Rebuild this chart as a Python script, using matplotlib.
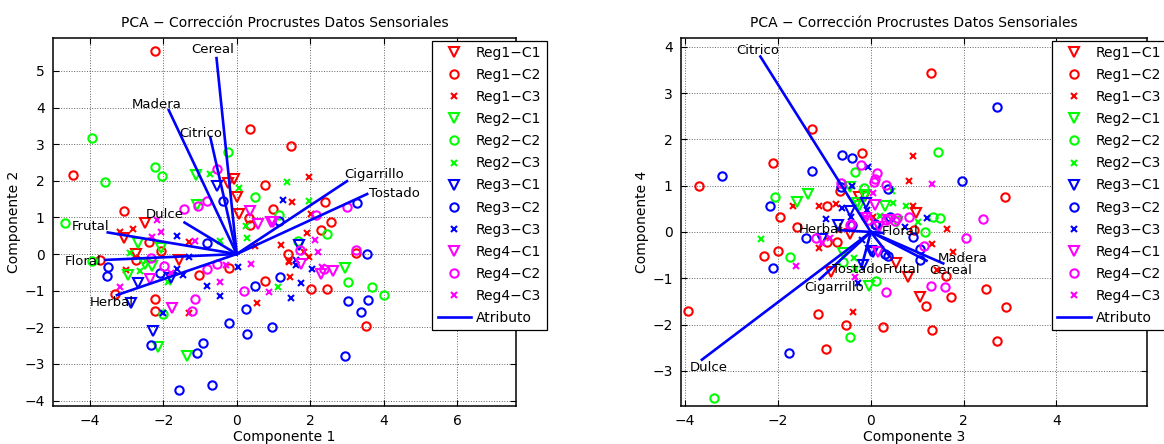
"""
PCA - correccion Procrustes, componentes 1-2 y 3-4
"""
import matplotlib
matplotlib.use('Agg')
import matplotlib.pyplot as plt

plt.rcParams['font.family'] = ['DejaVu Sans']
plt.rcParams['font.size'] = 10

series_names = ['Reg1\u2212C1', 'Reg1\u2212C2', 'Reg1\u2212C3',
                'Reg2\u2212C1', 'Reg2\u2212C2', 'Reg2\u2212C3',
                'Reg3\u2212C1', 'Reg3\u2212C2', 'Reg3\u2212C3',
                'Reg4\u2212C1', 'Reg4\u2212C2', 'Reg4\u2212C3']
attr_names = ['Cereal', 'Madera', 'Citrico', 'Dulce', 'Frutal', 'Floral', 'Herbal', 'Cigarrillo', 'Tostado']

# ---- componentes 1 y 2 ----
r1c1_pc1 = [-0.07, -0.23, 0.0, 0.05, -2.49, -3.08, -2.73, -1.58]
r1c1_pc2 = [2.04, 1.93, 1.57, 1.09, 0.86, 0.45, -0.01, -0.16]
r1c2_pc1 = [-2.23, -4.46, 0.36, 1.47, 0.76, 0.99, 0.34, 0.35, -2.4, -2.07, -2.73, -3.73, -0.21, -1.04,
            -3.3, -2.22, -2.23, 0.77, 1.4, 2.39, 2.56, 2.29, 3.24, 2.01, 2.45, 3.51, -3.06]
r1c2_pc2 = [5.55, 2.16, 3.42, 2.96, 1.89, 1.22, 0.99, 0.79, 0.32, 0.08, -0.15, -0.15, -0.37, -0.56,
            -1.1, -1.23, -1.55, -0.74, -0.01, 1.43, 0.87, 0.67, 0.04, -0.96, -0.96, -1.97, 1.18]
r1c3_pc1 = [-3.19, -2.83, -1.31, -2.46, -3.02, -1.31, 0.55, 1.45, 1.41, 1.2, 1.5, 1.97, 2.03, 1.92, 1.83, 1.97, 1.43, 0.5]
r1c3_pc2 = [0.59, 0.68, 0.34, -0.18, -0.44, -1.62, -1.34, -0.63, -0.21, 0.26, 1.41, 2.11, 1.09, 0.57, 0.05, -0.09, -0.19, 0.23]
r2c1_pc1 = [-1.1, -1.07, -2.69, -2.07, -2.3, -2.49, -2.96, -2.14, -1.34, 2.94]
r2c1_pc2 = [2.15, 1.34, 0.31, 0.17, -0.33, -0.28, -0.58, -2.53, -2.78, -0.39]
r2c2_pc1 = [-3.95, -3.59, -2.23, -2.03, -0.25, 0.51, 1.15, -4.66, -3.93, -2.0, 1.67, 2.47, 3.02, 3.67, 4.02]
r2c2_pc2 = [3.18, 1.96, 2.39, 2.14, 2.79, 1.56, 1.06, 0.86, -0.18, -1.65, 0.36, 0.54, -0.76, -0.89, -1.12]
r2c3_pc1 = [-0.74, 0.05, 1.36, 1.97, -0.46, 0.25, 0.28, -2.9, -2.62, -1.87, 1.11, -2.46]
r2c3_pc2 = [2.19, 1.81, 1.96, 1.44, 0.36, 0.77, 0.43, 0.04, -0.46, -0.77, -0.91, -0.2]
r3c1_pc1 = [-0.54, -2.69, -1.78, -2.87, -2.28, 1.7]
r3c1_pc2 = [1.86, -0.78, -0.66, -1.33, -2.1, 0.25]
r3c2_pc1 = [-0.38, 1.15, -0.81, -3.51, -3.53, -2.1, 0.24, -0.22, -2.32, -0.93, -1.09, -1.56, -0.67, 0.29,
            0.95, 0.49, 1.17, 3.28, 3.54, 3.04, 3.56, 3.38, 2.95]
r3c2_pc2 = [1.45, 0.91, 0.29, -0.35, -0.6, -0.53, -1.51, -1.89, -2.49, -2.44, -2.69, -3.71, -3.58, -2.19,
            -1.98, -0.87, -0.62, 1.39, -0.01, -1.28, -1.26, -1.58, -2.79]
r3c3_pc1 = [1.25, -1.63, -1.31, -1.63, -1.46, 0.04, -0.81, -0.46, 1.47, 1.61, 1.61, 2.05, 1.74, -2.0]
r3c3_pc2 = [1.48, 0.5, -0.09, -0.41, -0.57, -0.36, -0.86, -1.14, -1.19, -0.16, -0.3, -0.42, -0.78, -1.6]
r4c1_pc1 = [0.37, 0.59, 0.92, 0.98, -2.35, -1.75, 1.74, 2.28, 2.61]
r4c1_pc2 = [1.17, 0.81, 0.88, 0.87, -0.69, -1.47, -0.28, -0.55, -0.46]
r4c2_pc1 = [-0.54, -0.8, -1.06, -1.44, -2.33, -1.98, -0.81, -0.53, 0.2, -1.13, -1.21, 3.0, 2.17, 1.73, 2.37, 3.24]
r4c2_pc2 = [2.33, 1.45, 1.32, 1.24, -0.1, -0.33, -0.42, -0.28, -1.0, -1.24, -1.56, 1.28, 1.07, 0.11, -0.41, 0.11]
r4c3_pc1 = [-2.16, -2.07, -2.31, -1.14, -3.17, -1.8, -0.3, -0.46, 0.38, 0.88, 2.13, 2.2, 2.31]
r4c3_pc2 = [0.93, 0.59, 0.46, 0.36, -0.89, -0.51, -0.3, -0.77, -0.28, -1.03, 0.37, 0.05, -0.35]

attr_pc1 = [-0.55, -1.85, -0.72, -1.42, -3.51, -3.57, -3.26, 3.0, 3.55]
attr_pc2 = [5.35, 3.93, 3.19, 0.86, 0.59, -0.16, -1.12, 1.99, 1.64]

# ---- componentes 3 y 4 ----
r1c1_pc3 = [-0.26, -0.13, -0.45, 0.54, 0.8, 1.06, 0.97, -0.85]
r1c1_pc4 = [0.76, 0.78, -0.05, -0.68, -0.97, -1.4, 0.42, -0.86]
r1c2_pc3 = [-1.26, -2.11, -3.71, -0.2, -0.67, -0.95, -1.96, -1.6, -2.31, -1.99, -0.95, -0.73, -1.14, -0.54,
            0.27, -0.97, -3.94, 1.29, 2.89, 1.63, 2.48, 1.72, 1.18, 2.92, 1.31, 2.71, 0.93]
r1c2_pc4 = [2.22, 1.48, 1.0, 1.7, 0.88, 0.57, 0.33, 0.1, -0.53, -0.41, -0.22, -0.22, -1.77, -2.01,
            -2.05, -2.53, -1.71, 3.43, 0.76, -0.95, -1.24, -1.4, -1.59, -1.63, -2.12, -2.35, 0.04]
r1c3_pc3 = [-1.67, -1.12, -0.76, -1.11, -0.39, 0.91, 0.82, 0.91, 1.65, 1.77, 1.32, 1.42, -0.68, 0.04]
r1c3_pc4 = [0.55, 0.55, 0.6, -0.34, -1.73, 1.64, 1.09, 0.55, 0.06, -0.43, -0.27, -0.82, 0.04, 0.32]
r2c1_pc3 = [-0.45, -0.13, 0.3, -0.29, -1.6, -1.35, -0.25, 0.57, -0.59, -0.04]
r2c1_pc4 = [0.98, 0.8, 0.55, 0.62, 0.64, 0.81, 0.57, 0.21, -0.45, -1.16]
r2c2_pc3 = [-0.34, -0.14, -2.07, 1.44, 1.34, 1.49, 1.16, -1.75, 0.12, -0.45, -3.38, -0.59]
r2c2_pc4 = [1.29, 0.94, 0.76, 1.73, 0.33, 0.3, -0.01, -0.55, -1.05, -2.27, -3.59, -0.64]
r2c3_pc3 = [0.47, 0.46, 0.75, 1.02, -2.37, -0.36, 0.2, -0.35]
r2c3_pc4 = [0.62, 0.89, 0.56, 0.22, -0.15, -0.57, 0.35, -0.8]
r3c1_pc3 = [-0.11, -0.45, -0.7, -1.06, 0.05, 0.0, -0.16]
r3c1_pc4 = [0.62, 0.45, 0.15, -0.15, -0.43, -0.41, -0.71]
r3c2_pc3 = [-3.2, -1.27, -0.63, -0.4, 0.38, -0.65, -2.18, -1.39, -2.11, -0.4, 0.11, -1.77, 2.71, 1.96,
            0.41, 0.9, 1.06, 1.07, 0.09, 0.3, 0.36]
r3c2_pc4 = [1.2, 1.32, 1.66, 1.6, 0.92, 0.98, 0.57, -0.12, -0.77, 0.14, 0.14, -2.62, 2.71, 1.11,
            0.33, -0.11, -0.37, -0.6, 0.17, -0.47, -0.52]
r3c3_pc3 = [-0.06, -0.41, -0.62, -0.97, 1.22, -0.09, -0.43, -0.18, -0.27, 0.73]
r3c3_pc4 = [1.41, 0.99, 0.51, 0.28, 0.3, 0.48, 0.32, -0.17, -1.11, 0.1]
r4c1_pc3 = [0.09, 0.38, 0.18, 0.16, -0.1]
r4c1_pc4 = [0.58, 0.26, 0.1, -0.43, 0.3]
r4c2_pc3 = [-0.22, 0.14, 0.1, 0.06, 0.32, -0.65, -1.19, -0.43, -0.07, 0.32, 0.57, 0.52, 0.82, 2.42,
            2.04, 1.15, 0.32, 1.29, 1.59, -0.45]
r4c2_pc4 = [1.45, 1.27, 1.14, 1.07, 1.02, 1.05, -0.12, 0.17, 0.26, 0.26, 0.31, 0.24, 0.32, 0.29,
            -0.14, -0.3, -1.29, -1.16, -1.18, 0.15]
r4c3_pc3 = [0.05, 1.31, -1.62, -1.06, -0.87, -0.13, -0.34]
r4c3_pc4 = [0.84, 1.03, -0.73, -0.24, -0.12, 0.33, -0.97]

attr_pc3 = [1.2, 1.56, -2.38, -3.64, 0.41, 0.25, -0.7, -1.1, -0.2]
attr_pc4 = [-0.62, -0.68, 3.79, -2.76, -0.53, -0.02, 0.04, -1.02, -0.75]

left_x = [r1c1_pc1, r1c2_pc1, r1c3_pc1, r2c1_pc1, r2c2_pc1, r2c3_pc1,
          r3c1_pc1, r3c2_pc1, r3c3_pc1, r4c1_pc1, r4c2_pc1, r4c3_pc1]
left_y = [r1c1_pc2, r1c2_pc2, r1c3_pc2, r2c1_pc2, r2c2_pc2, r2c3_pc2,
          r3c1_pc2, r3c2_pc2, r3c3_pc2, r4c1_pc2, r4c2_pc2, r4c3_pc2]
right_x = [r1c1_pc3, r1c2_pc3, r1c3_pc3, r2c1_pc3, r2c2_pc3, r2c3_pc3,
           r3c1_pc3, r3c2_pc3, r3c3_pc3, r4c1_pc3, r4c2_pc3, r4c3_pc3]
right_y = [r1c1_pc4, r1c2_pc4, r1c3_pc4, r2c1_pc4, r2c2_pc4, r2c3_pc4,
           r3c1_pc4, r3c2_pc4, r3c3_pc4, r4c1_pc4, r4c2_pc4, r4c3_pc4]

colores = ['#ff0000'] * 3 + ['#00ff00'] * 3 + ['#0000ff'] * 3 + ['#ff00ff'] * 3
marcas = ['v', 'o', 'x'] * 4
tamanos = [6.5, 6, 4] * 4

# desplazamiento (pixeles) de cada etiqueta respecto al extremo del vector
off_left = [(-4, 9), (-12, 6), (-10, 4), (-20, 8), (-17, 6), (-22, -2), (-5, -7), (27, 7), (27, 0)]
off_right = [(24, -10), (19, 5), (-3, 6), (7, -8), (12, -13), (18, 1), (-18, 1), (14, -8), (-4, -3)]


def dibujar(ax, xs, ys, ax_x, ax_y, offs, xlab, ylab, xlim, ylim, leg_x):
    for x, y, c, mk, ms, nm in zip(xs, ys, colores, marcas, tamanos, series_names):
        ax.plot(x, y, linestyle='none', marker=mk, ms=ms, mfc='none', mec=c, mew=1.5, label=nm)
    for i, (vx, vy) in enumerate(zip(ax_x, ax_y)):
        ax.plot([0, vx], [0, vy], 'b', lw=1.9, label='Atributo' if i == 0 else None)
        ax.annotate(attr_names[i], xy=(vx, vy), xytext=offs[i], textcoords='offset pixels',
                    ha='center', va='center', fontsize=9.5)
    ax.set_xlim(xlim)
    ax.set_ylim(ylim)
    ax.set_title('PCA \u2212 Corrección Procrustes Datos Sensoriales', fontsize=10, pad=8)
    ax.set_xlabel(xlab, labelpad=1)
    ax.set_ylabel(ylab, labelpad=2)
    ax.grid(True, linestyle=':', color='k', alpha=0.6, lw=0.7)
    ax.tick_params(direction='in', top=True, right=True, length=4, labelsize=10, pad=6)
    for s in ax.spines.values():
        s.set_linewidth(1.1)
    leg = ax.legend(loc='upper left', bbox_to_anchor=(leg_x, 0.993), borderaxespad=0,
                    fancybox=False, framealpha=1, edgecolor='k', fontsize=10,
                    labelspacing=0.58, handlelength=2.4, handletextpad=0.35, borderpad=0.4)
    leg.get_frame().set_linewidth(0.9)


fig = plt.figure(figsize=(11.64, 4.44), dpi=100)
ax1 = fig.add_axes([53 / 1164, 38 / 444, 463 / 1164, 368 / 444])
ax2 = fig.add_axes([681 / 1164, 38 / 444, 466 / 1164, 368 / 444])

dibujar(ax1, left_x, left_y, attr_pc1, attr_pc2, off_left, 'Componente 1', 'Componente 2',
        (-5.0, 7.6), (-4.15, 5.9), 0.819)
dibujar(ax2, right_x, right_y, attr_pc3, attr_pc4, off_right, 'Componente 3', 'Componente 4',
        (-4.09, 5.95), (-3.76, 4.19), 0.796)

ax1.set_xticks([-4, -2, 0, 2, 4, 6])
ax1.set_yticks([-4, -3, -2, -1, 0, 1, 2, 3, 4, 5])
ax2.set_xticks([-4, -2, 0, 2, 4])
ax2.set_yticks([-3, -2, -1, 0, 1, 2, 3, 4])

fig.savefig('out.png', dpi=100)
